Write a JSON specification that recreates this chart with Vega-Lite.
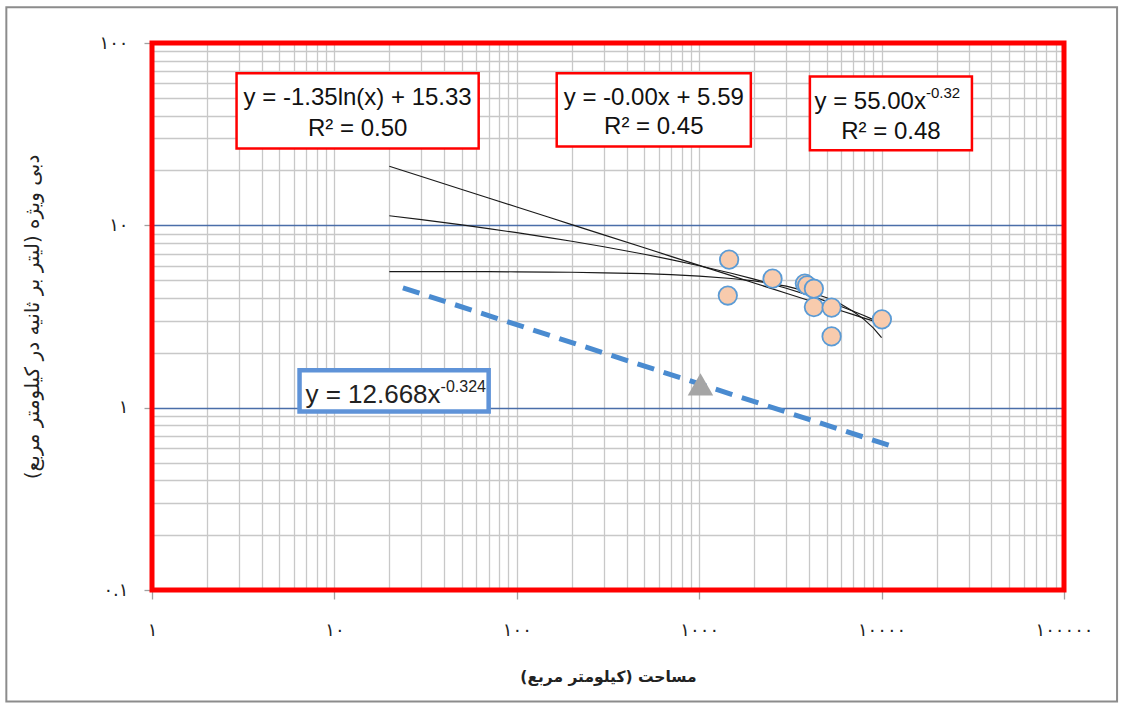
{
  "$schema": "https://vega.github.io/schema/vega-lite/v6.json",
  "width": 912,
  "height": 547,
  "autosize": {"type": "none"},
  "padding": {"left": 152, "top": 43, "right": 60, "bottom": 119},
  "background": "white",
  "config": {"view": {"stroke": null}},
  "encoding": {
    "x": {
      "field": "x", "type": "quantitative",
      "scale": {"type": "log", "domain": [1, 100000], "nice": false},
      "axis": {
        "values": [1,2,3,4,5,6,7,8,9,10,20,30,40,50,60,70,80,90,100,200,300,400,500,600,700,800,900,1000,2000,3000,4000,5000,6000,7000,8000,9000,10000,20000,30000,40000,50000,60000,70000,80000,90000,100000],
        "grid": true, "gridColor": "#c8c8c8", "gridWidth": 1.3,
        "labelExpr": "datum.value == 1 ? '۱' : datum.value == 10 ? '۱۰' : datum.value == 100 ? '۱۰۰' : datum.value == 1000 ? '۱۰۰۰' : datum.value == 10000 ? '۱۰۰۰۰' : datum.value == 100000 ? '۱۰۰۰۰۰' : ''",
        "labelOverlap": false, "labelFlush": false,
        "labelFont": "DejaVu Sans", "labelFontSize": 18, "labelColor": "#222222", "labelPadding": 22,
        "tickSize": 9, "tickColor": "#a0a0a0", "tickWidth": 1.3,
        "tickOpacity": {"condition": {"test": "datum.value==1||datum.value==10||datum.value==100||datum.value==1000||datum.value==10000||datum.value==100000", "value": 1}, "value": 0},
        "domainColor": "#a0a0a0",
        "title": "‏مساحت (کیلومتر مربع)‏",
        "titleFont": "DejaVu Sans", "titleFontSize": 15.5, "titleFontWeight": "bold", "titleColor": "#222222", "titlePadding": 30
      }
    },
    "y": {
      "field": "y", "type": "quantitative",
      "scale": {"type": "log", "domain": [0.1, 100], "nice": false},
      "axis": {
        "values": [0.1,0.2,0.3,0.4,0.5,0.6,0.7,0.8,0.9,1,2,3,4,5,6,7,8,9,10,20,30,40,50,60,70,80,90,100],
        "grid": true, "gridWidth": 1.3,
        "gridColor": {"condition": {"test": "datum.value==1||datum.value==10", "value": "#4a6ea9"}, "value": "#c8c8c8"},
        "labelExpr": "datum.value == 0.1 ? '۰.۱' : datum.value == 1 ? '۱' : datum.value == 10 ? '۱۰' : datum.value == 100 ? '۱۰۰' : ''",
        "labelOverlap": false, "labelFlush": false,
        "labelFont": "DejaVu Sans", "labelFontSize": 18, "labelColor": "#222222", "labelPadding": 16,
        "tickSize": 8, "tickColor": "#a0a0a0", "tickWidth": 1.3,
        "tickOpacity": {"condition": {"test": "datum.value==0.1||datum.value==1||datum.value==10||datum.value==100", "value": 1}, "value": 0},
        "domainColor": "#a0a0a0",
        "title": "‏دبی ویژه (لیتر بر ثانیه در کیلومتر مربع)‏",
        "titleFont": "DejaVu Sans", "titleFontSize": 20, "titleFontWeight": "normal", "titleColor": "#222222", "titlePadding": 56
      }
    }
  },
  "layer": [
    {
      "data": {"values": [{"x": 0.159, "y": 156.9, "x2": 195400, "y2": 0.0245}]},
      "mark": {"type": "rect", "fill": null, "stroke": "#8c8c8c", "strokeWidth": 2, "clip": false},
      "encoding": {"x2": {"field": "x2"}, "y2": {"field": "y2"}}
    },
    {
      "data": {"values": [{"x": 1, "y": 100, "x2": 100000, "y2": 0.1}]},
      "mark": {"type": "rect", "fill": null, "stroke": "#ff0000", "strokeWidth": 5},
      "encoding": {"x2": {"field": "x2"}, "y2": {"field": "y2"}}
    },
    {
      "data": {"values": [
        {"s": "power", "x": 20, "y": 21.09}, {"s": "power", "x": 30, "y": 18.52}, {"s": "power", "x": 50, "y": 15.73}, {"s": "power", "x": 70, "y": 14.12}, {"s": "power", "x": 100, "y": 12.60}, {"s": "power", "x": 150, "y": 11.07}, {"s": "power", "x": 200, "y": 10.09}, {"s": "power", "x": 300, "y": 8.87}, {"s": "power", "x": 500, "y": 7.53}, {"s": "power", "x": 700, "y": 6.76}, {"s": "power", "x": 1000, "y": 6.03}, {"s": "power", "x": 1500, "y": 5.30}, {"s": "power", "x": 2000, "y": 4.83}, {"s": "power", "x": 3000, "y": 4.24}, {"s": "power", "x": 4000, "y": 3.87}, {"s": "power", "x": 5000, "y": 3.60}, {"s": "power", "x": 6000, "y": 3.40}, {"s": "power", "x": 7000, "y": 3.24}, {"s": "power", "x": 8000, "y": 3.10}, {"s": "power", "x": 9000, "y": 2.99}, {"s": "power", "x": 10000, "y": 2.89},
        {"s": "log", "x": 20, "y": 11.29}, {"s": "log", "x": 30, "y": 10.74}, {"s": "log", "x": 50, "y": 10.05}, {"s": "log", "x": 70, "y": 9.59}, {"s": "log", "x": 100, "y": 9.11}, {"s": "log", "x": 150, "y": 8.57}, {"s": "log", "x": 200, "y": 8.18}, {"s": "log", "x": 300, "y": 7.63}, {"s": "log", "x": 500, "y": 6.94}, {"s": "log", "x": 700, "y": 6.49}, {"s": "log", "x": 1000, "y": 6.00}, {"s": "log", "x": 1500, "y": 5.46}, {"s": "log", "x": 2000, "y": 5.07}, {"s": "log", "x": 3000, "y": 4.52}, {"s": "log", "x": 4000, "y": 4.13}, {"s": "log", "x": 5000, "y": 3.83}, {"s": "log", "x": 6000, "y": 3.59}, {"s": "log", "x": 7000, "y": 3.38}, {"s": "log", "x": 8000, "y": 3.20}, {"s": "log", "x": 9000, "y": 3.04}, {"s": "log", "x": 10000, "y": 2.90},
        {"s": "lin", "x": 20, "y": 5.58}, {"s": "lin", "x": 30, "y": 5.58}, {"s": "lin", "x": 50, "y": 5.57}, {"s": "lin", "x": 70, "y": 5.57}, {"s": "lin", "x": 100, "y": 5.56}, {"s": "lin", "x": 150, "y": 5.54}, {"s": "lin", "x": 200, "y": 5.53}, {"s": "lin", "x": 300, "y": 5.49}, {"s": "lin", "x": 500, "y": 5.43}, {"s": "lin", "x": 700, "y": 5.37}, {"s": "lin", "x": 1000, "y": 5.27}, {"s": "lin", "x": 1500, "y": 5.11}, {"s": "lin", "x": 2000, "y": 4.96}, {"s": "lin", "x": 3000, "y": 4.64}, {"s": "lin", "x": 4000, "y": 4.32}, {"s": "lin", "x": 5000, "y": 4.01}, {"s": "lin", "x": 6000, "y": 3.69}, {"s": "lin", "x": 7000, "y": 3.37}, {"s": "lin", "x": 8000, "y": 3.05}, {"s": "lin", "x": 9000, "y": 2.74}, {"s": "lin", "x": 10000, "y": 2.42}
      ]},
      "mark": {"type": "line", "color": "#1a1a1a", "strokeWidth": 1.2},
      "encoding": {"detail": {"field": "s"}}
    },
    {
      "data": {"values": [{"x": 23.75, "y": 4.54}, {"x": 10965, "y": 0.622}]},
      "mark": {"type": "line", "color": "#4a8bd0", "strokeWidth": 5, "strokeDash": [17.4, 10], "strokeCap": "butt"},
      "encoding": {}
    },
    {
      "data": {"values": [
        {"x": 1459, "y": 6.48}, {"x": 1435, "y": 4.12}, {"x": 2524, "y": 5.10}, {"x": 3795, "y": 4.79}, {"x": 3909, "y": 4.69}, {"x": 4253, "y": 4.49}, {"x": 4253, "y": 3.56}, {"x": 5318, "y": 3.54}, {"x": 5318, "y": 2.46}, {"x": 10040, "y": 3.05}
      ]},
      "mark": {"type": "point", "shape": "circle", "filled": true, "fill": "#f8cbad", "stroke": "#5b9bd5", "strokeWidth": 1.8, "size": 340, "opacity": 1}
    },
    {
      "data": {"values": [{"x": 1016, "y": 1.342}]},
      "mark": {"type": "point", "shape": "triangle-up", "filled": true, "fill": "#a5a5a5", "stroke": null, "size": 650, "opacity": 1}
    },
    {
      "data": {"values": [
        {"x": 2.908, "x2": 61.8, "y": 68.2, "y2": 26.4},
        {"x": 165.5, "x2": 1919, "y": 68.2, "y2": 27.1},
        {"x": 4044, "x2": 31280, "y": 65.6, "y2": 25.8}
      ]},
      "mark": {"type": "rect", "fill": "white", "stroke": "#ff0000", "strokeWidth": 2.5},
      "encoding": {"x2": {"field": "x2"}, "y2": {"field": "y2"}}
    },
    {
      "data": {"values": [{"x": 6.44, "x2": 70.1, "y": 1.602, "y2": 0.954}]},
      "mark": {"type": "rect", "fill": "white", "stroke": "#5f93d8", "strokeWidth": 4.5},
      "encoding": {"x2": {"field": "x2"}, "y2": {"field": "y2"}}
    },
    {
      "data": {"values": [
        {"t": "y = -1.35ln(x) + 15.33", "x": 13.41, "y": 45.6},
        {"t": "R² = 0.50", "x": 13.41, "y": 30.8},
        {"t": "y = -0.00x + 5.59", "x": 563.6, "y": 45.6},
        {"t": "R² = 0.45", "x": 563.6, "y": 31.6},
        {"t": "R² = 0.48", "x": 11250, "y": 29.7}
      ]},
      "mark": {"type": "text", "font": "Liberation Sans", "fontSize": 24, "align": "center", "baseline": "alphabetic", "color": "#111111"},
      "encoding": {"text": {"field": "t"}}
    },
    {
      "data": {"values": [{"t": "y = 55.00x", "x": 17500, "y": 43.4}]},
      "mark": {"type": "text", "font": "Liberation Sans", "fontSize": 24, "align": "right", "baseline": "alphabetic", "color": "#111111"},
      "encoding": {"text": {"field": "t"}}
    },
    {
      "data": {"values": [{"t": "-0.32", "x": 17500, "y": 49.9}]},
      "mark": {"type": "text", "font": "Liberation Sans", "fontSize": 15, "align": "left", "baseline": "alphabetic", "color": "#111111"},
      "encoding": {"text": {"field": "t"}}
    },
    {
      "data": {"values": [{"t": "y = 12.668x", "x": 38.2, "y": 1.065}]},
      "mark": {"type": "text", "font": "Liberation Sans", "fontSize": 26, "align": "right", "baseline": "alphabetic", "color": "#222222"},
      "encoding": {"text": {"field": "t"}}
    },
    {
      "data": {"values": [{"t": "-0.324", "x": 38.2, "y": 1.224}]},
      "mark": {"type": "text", "font": "Liberation Sans", "fontSize": 16, "align": "left", "baseline": "alphabetic", "color": "#222222"},
      "encoding": {"text": {"field": "t"}}
    }
  ]
}
